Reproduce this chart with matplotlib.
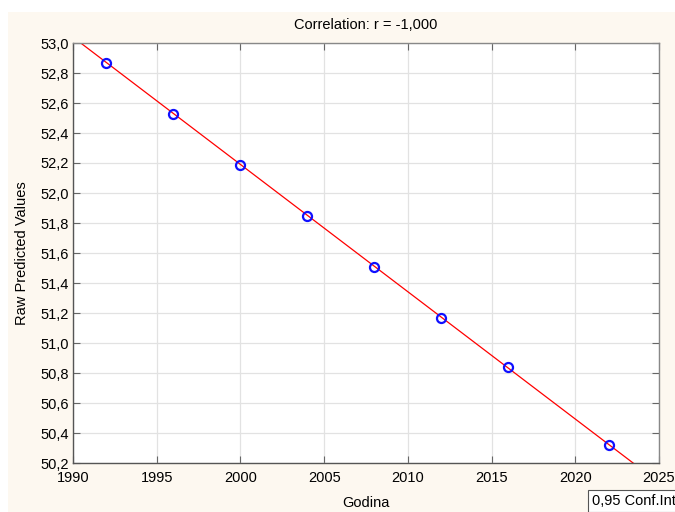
import numpy as np
import matplotlib.pyplot as plt
from matplotlib.ticker import FuncFormatter, MultipleLocator
from matplotlib.patches import Rectangle

plt.rcParams['font.family'] = ['Liberation Sans', 'DejaVu Sans']

godina = [1992, 1996, 2000, 2004, 2008, 2012, 2016, 2022]
predicted = [52.87, 52.53, 52.19, 51.85, 51.51, 51.17, 50.84, 50.32]
title = 'Correlation: r = -1,000'

x = np.array(godina, dtype=float)
y = np.array(predicted)
slope, intercept = np.polyfit(x, y, 1)

fig = plt.figure(figsize=(6.75, 5.12), dpi=100)
fig.patch.set_facecolor('white')
fig.patches.append(Rectangle((8 / 675, 0), 1, 1 - 12 / 512, transform=fig.transFigure,
                             facecolor='#fdf8f0', edgecolor='none', zorder=-10))
ax = fig.add_axes([73 / 675, 1 - 463 / 512, (659 - 73) / 675, (463 - 43) / 512])
ax.set_facecolor('white')

xl = np.array([1990, 2025])
ax.plot(xl, slope * xl + intercept, color='red', lw=0.9, zorder=2)
ax.plot(x, y, 'o', mfc='none', mec='#1010ff', mew=1.6, ms=6.5, zorder=3)

ax.set_xlim(1990, 2025)
ax.set_ylim(50.2, 53.0)
ax.xaxis.set_major_locator(MultipleLocator(5))
ax.yaxis.set_major_locator(MultipleLocator(0.2))
ax.yaxis.set_major_formatter(FuncFormatter(lambda v, p: f'{v:.1f}'.replace('.', ',')))
ax.grid(True, color='#e2e2e2', lw=0.9, zorder=0)
ax.set_axisbelow(True)
ax.tick_params(direction='in', top=True, right=True, length=5, color='#666666',
               labelsize=10.5, pad=3)
ax.tick_params(axis='x', pad=6)
for s in ax.spines.values():
    s.set_color('#888888')
    s.set_linewidth(1.0)
ax.spines['left'].set_color('#555555')
ax.spines['bottom'].set_color('#555555')

ax.set_title(title, fontsize=10.5, pad=10)
ax.set_xlabel('Godina', fontsize=10.5, labelpad=8)
ax.set_ylabel('Raw Predicted Values', fontsize=10.5, labelpad=8)

fig.text(592 / 675, 1 - 501 / 512, '0,95 Conf.Int', fontsize=10.5, va='center', ha='left',
         bbox=dict(boxstyle='square,pad=0.3', facecolor='white', edgecolor='#555555', lw=0.8))

fig.savefig('out.png', dpi=100, facecolor=fig.get_facecolor())
